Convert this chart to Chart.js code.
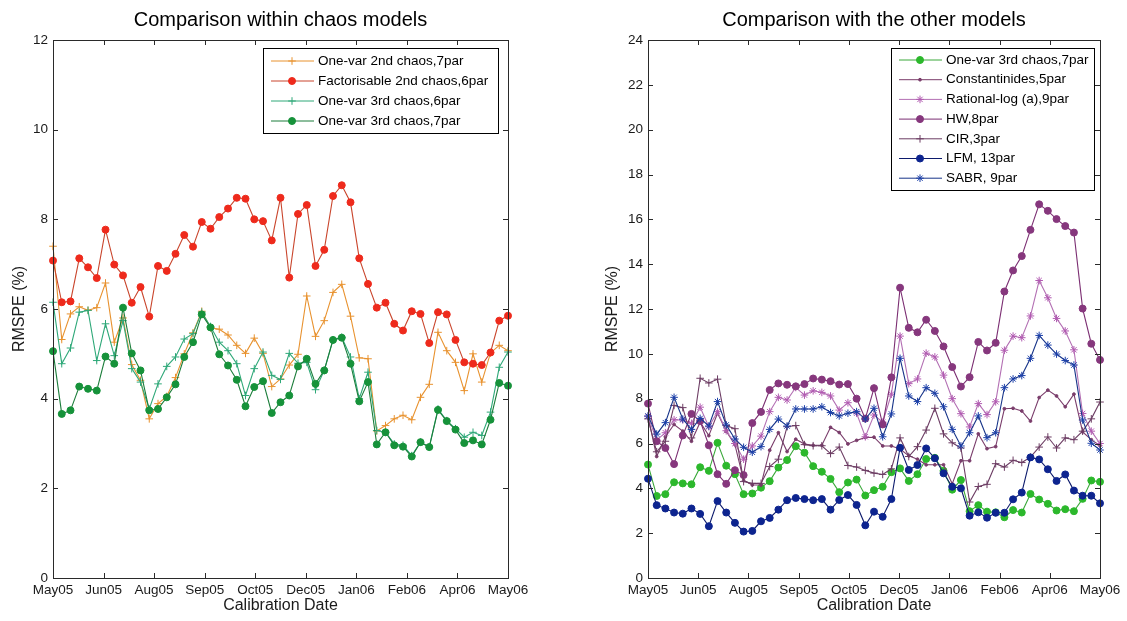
<!DOCTYPE html>
<html lang="en">
<head>
<meta charset="UTF-8" />
<title>RMSPE by calibration date</title>
<script src="https://cdn.jsdelivr.net/npm/chart.js"></script>
<style>
  body { margin: 0; background: #ffffff; overflow: hidden; }
  .panel { position: absolute; top: 0; height: 621px; }
  #leftPanel { left: 0; width: 563px; }
  #rightPanel { left: 595px; width: 532px; }
</style>
</head>
<body>
<div class="panel" id="leftPanel"><canvas id="chaosChart"></canvas></div>
<div class="panel" id="rightPanel"><canvas id="otherChart"></canvas></div>
<script>
// tick labels along the calibration date axis (evenly spaced over the year)
var dateTicks = ["May05", "Jun05", "Aug05", "Sep05", "Oct05", "Dec05", "Jan06", "Feb06", "Apr06", "May06"];

// weekly RMSPE (%) values, May05 .. May06
var oneVar2nd7 = [7.40, 5.32, 5.89, 6.05, 5.97, 6.03, 6.58, 5.26, 5.80, 4.76, 4.41, 3.55, 3.89, 4.05, 4.47, 5.00, 5.47, 5.95, 5.58, 5.55, 5.42, 5.19, 5.01, 5.35, 5.01, 4.27, 4.44, 4.75, 4.99, 6.29, 5.39, 5.74, 6.37, 6.55, 5.84, 4.91, 4.89, 3.28, 3.40, 3.55, 3.63, 3.53, 4.03, 4.32, 5.48, 5.07, 4.81, 4.18, 5.00, 4.37, 5.02, 5.19, 5.07];
var factorisable2nd6 = [7.08, 6.15, 6.17, 7.13, 6.93, 6.69, 7.77, 6.99, 6.75, 6.14, 6.49, 5.83, 6.96, 6.85, 7.23, 7.65, 7.39, 7.94, 7.79, 8.05, 8.24, 8.48, 8.46, 8.00, 7.96, 7.53, 8.48, 6.70, 8.12, 8.32, 6.96, 7.32, 8.52, 8.76, 8.38, 7.13, 6.56, 6.03, 6.14, 5.67, 5.52, 5.95, 5.89, 5.24, 5.93, 5.88, 5.31, 4.81, 4.78, 4.75, 5.03, 5.74, 5.85];
var oneVar3rd6 = [6.15, 4.78, 5.13, 5.93, 5.97, 4.85, 5.67, 4.96, 5.74, 4.67, 4.37, 3.77, 4.33, 4.72, 4.93, 5.33, 5.45, 5.93, 5.61, 5.26, 5.07, 4.78, 4.07, 4.67, 5.04, 4.52, 4.43, 5.01, 4.79, 4.81, 4.20, 4.63, 5.31, 5.37, 4.93, 4.00, 4.59, 3.29, 3.25, 2.99, 2.96, 2.73, 3.03, 2.92, 3.77, 3.51, 3.33, 3.14, 3.25, 3.18, 3.70, 4.70, 5.04];
var oneVar3rd7 = [5.06, 3.66, 3.74, 4.27, 4.22, 4.18, 4.94, 4.78, 6.03, 5.01, 4.63, 3.74, 3.77, 4.03, 4.32, 4.93, 5.26, 5.88, 5.59, 4.99, 4.74, 4.42, 3.83, 4.26, 4.39, 3.68, 3.92, 4.07, 4.72, 4.89, 4.33, 4.63, 5.31, 5.36, 4.78, 3.94, 4.37, 2.98, 3.25, 2.96, 2.93, 2.71, 3.03, 2.92, 3.75, 3.50, 3.31, 3.01, 3.07, 2.98, 3.53, 4.35, 4.29];
var constantinides5 = [7.20, 5.42, 6.30, 6.85, 6.55, 6.10, 6.95, 6.35, 7.35, 6.55, 5.95, 4.35, 4.15, 4.15, 5.70, 6.48, 5.64, 6.19, 5.98, 5.92, 5.92, 6.72, 6.49, 5.98, 6.14, 6.27, 6.28, 5.89, 5.89, 5.75, 5.45, 5.30, 5.05, 5.05, 5.05, 4.20, 5.23, 5.23, 6.43, 5.77, 5.86, 7.55, 7.57, 7.45, 7.00, 8.05, 8.38, 8.12, 7.64, 8.20, 6.52, 6.17, 5.90];
var rationalLog9 = [7.20, 6.15, 6.48, 7.06, 7.05, 6.90, 7.62, 6.75, 7.42, 6.57, 6.00, 5.30, 5.89, 6.33, 7.42, 8.06, 7.94, 8.50, 8.16, 8.35, 8.28, 8.12, 7.49, 7.82, 7.35, 6.30, 7.27, 6.95, 8.20, 10.79, 8.67, 8.88, 10.03, 9.86, 9.05, 8.00, 7.33, 6.74, 7.78, 7.29, 7.86, 10.16, 10.79, 10.72, 11.69, 13.27, 12.50, 11.58, 11.02, 10.18, 7.34, 6.55, 6.00];
var hw8 = [7.78, 6.10, 5.80, 5.08, 6.36, 7.32, 7.00, 5.92, 4.63, 4.20, 4.81, 4.59, 6.91, 7.41, 8.39, 8.68, 8.62, 8.55, 8.65, 8.90, 8.85, 8.78, 8.63, 8.65, 8.00, 7.11, 8.47, 6.85, 8.95, 12.95, 11.16, 10.96, 11.52, 11.02, 10.33, 9.41, 8.54, 8.96, 10.53, 10.15, 10.49, 12.78, 13.72, 14.36, 15.53, 16.67, 16.38, 16.01, 15.70, 15.41, 12.02, 10.45, 9.73];
var cir3 = [7.10, 5.63, 6.10, 7.70, 7.60, 6.25, 8.91, 8.70, 8.87, 6.80, 6.66, 4.30, 4.22, 4.22, 4.97, 5.30, 6.75, 6.80, 5.95, 5.90, 5.90, 5.55, 5.84, 5.02, 4.95, 4.80, 4.68, 4.62, 4.87, 6.25, 5.42, 5.86, 6.60, 7.57, 6.43, 6.03, 5.80, 3.39, 4.08, 4.18, 5.10, 4.95, 5.25, 5.15, 5.39, 5.84, 6.29, 5.80, 6.25, 6.17, 6.55, 7.10, 7.85];
var lfm13 = [4.43, 3.25, 3.10, 2.92, 2.87, 3.10, 2.86, 2.31, 3.43, 2.92, 2.46, 2.07, 2.10, 2.53, 2.68, 3.05, 3.47, 3.57, 3.52, 3.47, 3.52, 3.05, 3.48, 3.70, 3.26, 2.35, 2.96, 2.73, 3.52, 5.81, 4.82, 5.04, 5.78, 5.34, 4.67, 4.07, 4.00, 2.78, 2.93, 2.69, 2.91, 2.91, 3.51, 3.81, 5.38, 5.29, 4.85, 4.33, 4.62, 3.90, 3.67, 3.67, 3.33];
var sabr9 = [7.23, 6.42, 6.93, 8.06, 7.09, 6.63, 7.12, 6.78, 7.87, 6.83, 6.20, 5.83, 5.61, 5.86, 6.63, 7.09, 6.78, 7.54, 7.54, 7.54, 7.64, 7.38, 7.23, 7.35, 7.42, 7.09, 7.57, 6.30, 7.32, 9.80, 8.12, 7.87, 8.49, 8.24, 7.64, 6.63, 5.89, 6.48, 7.23, 6.26, 6.48, 8.49, 8.88, 9.03, 9.80, 10.82, 10.39, 9.99, 9.70, 9.50, 7.05, 6.01, 5.71];

var FONT = "'Liberation Sans', Arial, Helvetica, sans-serif";
var lastWeek = oneVar3rd7.length - 1;

function toPoints(values) {
  return values.map(function (v, i) { return { x: i, y: v }; });
}

// one line series; markers may have their own colour
function series(label, values, lineColor, markerColor, style, radius) {
  return {
    label: label,
    data: toPoints(values),
    borderColor: lineColor,
    backgroundColor: markerColor,
    pointBackgroundColor: markerColor,
    pointBorderColor: markerColor,
    pointStyle: style,
    pointRadius: radius,
    pointHoverRadius: radius,
    pointBorderWidth: 1,
    borderWidth: 1.1,
    tension: 0,
    clip: false
  };
}

// frame with inward ticks, title and the boxed legend
var framePlugin = {
  id: "frame",
  afterDraw: function (chart, args, opts) {
    var ctx = chart.ctx, a = chart.chartArea;
    var xs = chart.scales.x, ys = chart.scales.y;
    ctx.save();
    ctx.strokeStyle = "#2a2a2a";
    ctx.lineWidth = 1;
    ctx.beginPath();
    xs.ticks.forEach(function (t) {
      var px = Math.round(xs.getPixelForValue(t.value)) + 0.5;
      ctx.moveTo(px, a.bottom); ctx.lineTo(px, a.bottom - 5);
      ctx.moveTo(px, a.top); ctx.lineTo(px, a.top + 5);
    });
    ys.ticks.forEach(function (t) {
      var py = Math.round(ys.getPixelForValue(t.value)) + 0.5;
      ctx.moveTo(a.left, py); ctx.lineTo(a.left + 5, py);
      ctx.moveTo(a.right, py); ctx.lineTo(a.right - 5, py);
    });
    ctx.stroke();
    ctx.strokeRect(a.left + 0.5, a.top + 0.5, a.right - a.left, a.bottom - a.top);

    ctx.fillStyle = "#000";
    ctx.font = "20px " + FONT;
    ctx.textAlign = "center";
    ctx.textBaseline = "alphabetic";
    ctx.fillText(opts.title, (a.left + a.right) / 2, 26);

    var lg = opts.legend;
    ctx.fillStyle = "#fff";
    ctx.fillRect(lg.left, lg.top, lg.right - lg.left, lg.bottom - lg.top);
    ctx.strokeStyle = "#000";
    ctx.strokeRect(lg.left + 0.5, lg.top + 0.5, lg.right - lg.left, lg.bottom - lg.top);
    ctx.font = "13.5px " + FONT;
    ctx.textAlign = "left";
    ctx.textBaseline = "middle";
    chart.data.datasets.forEach(function (ds, i) {
      var y = lg.firstRow + i * lg.rowStep;
      ctx.strokeStyle = ds.borderColor;
      ctx.lineWidth = 1;
      ctx.beginPath();
      ctx.moveTo(lg.left + 8, y);
      ctx.lineTo(lg.left + 51, y);
      ctx.stroke();
      ctx.fillStyle = ds.pointBackgroundColor;
      ctx.strokeStyle = ds.pointBorderColor;
      Chart.helpers.drawPoint(ctx, { pointStyle: ds.pointStyle, radius: ds.pointRadius, borderWidth: 1, rotation: 0 }, lg.left + 29, y);
      ctx.fillStyle = "#000";
      ctx.fillText(ds.label, lg.left + 55, y);
    });
    ctx.restore();
  }
};

function makeChart(canvasId, datasets, yMax, rightPad, yTitlePad, title, legend) {
  // later series are painted over earlier ones
  datasets.forEach(function (ds, i) { ds.order = datasets.length - i; });
  return new Chart(document.getElementById(canvasId), {
    type: "line",
    data: { datasets: datasets },
    plugins: [framePlugin],
    options: {
      responsive: true,
      maintainAspectRatio: false,
      animation: false,
      events: [],
      layout: { padding: { left: 0, right: rightPad, top: 40, bottom: 0 } },
      scales: {
        x: {
          type: "linear",
          min: 0,
          max: lastWeek,
          afterBuildTicks: function (scale) {
            scale.ticks = dateTicks.map(function (d, k) {
              return { value: k * lastWeek / (dateTicks.length - 1) };
            });
          },
          afterFit: function (scale) { scale.height = 43; },
          grid: { display: false, drawTicks: false },
          border: { display: false },
          ticks: {
            autoSkip: false,
            maxRotation: 0,
            padding: 4,
            color: "#1a1a1a",
            font: { family: FONT, size: 13.5 },
            callback: function (value, index) { return dateTicks[index]; }
          },
          title: {
            display: true,
            text: "Calibration Date",
            color: "#1a1a1a",
            font: { family: FONT, size: 16 },
            padding: { top: 0, bottom: 6 }
          }
        },
        y: {
          min: 0,
          max: yMax,
          afterFit: function (scale) { scale.width = 53; },
          grid: { display: false, drawTicks: false },
          border: { display: false },
          ticks: {
            stepSize: 2,
            padding: 5,
            color: "#1a1a1a",
            font: { family: FONT, size: 13.5 }
          },
          title: {
            display: true,
            text: "RMSPE (%)",
            color: "#1a1a1a",
            font: { family: FONT, size: 16 },
            padding: { top: yTitlePad, bottom: 0 }
          }
        }
      },
      plugins: {
        legend: { display: false },
        tooltip: { enabled: false },
        frame: { title: title, legend: legend }
      }
    }
  });
}

makeChart("chaosChart", [
  series("One-var 2nd chaos,7par", oneVar2nd7, "#e8922f", "#e8922f", "cross", 3.8),
  series("Factorisable 2nd chaos,6par", factorisable2nd6, "#c9452c", "#ee2a1c", "circle", 3.5),
  series("One-var 3rd chaos,6par", oneVar3rd6, "#2ea878", "#2ea878", "cross", 3.8),
  series("One-var 3rd chaos,7par", oneVar3rd7, "#1b7d3a", "#16923a", "circle", 3.5)
], 12, 55, 10.4, "Comparison within chaos models",
  { left: 263, top: 48, right: 498, bottom: 133, firstRow: 61, rowStep: 20 });

makeChart("otherChart", [
  series("One-var 3rd chaos,7par", oneVar3rd7, "#3aa83a", "#2cb82c", "circle", 3.5),
  series("Constantinides,5par", constantinides5, "#7a3d6b", "#7a3d6b", "circle", 1.4),
  series("Rational-log (a),9par", rationalLog9, "#b36fb3", "#b15ab1", "star", 3.8),
  series("HW,8par", hw8, "#7b2e72", "#86377d", "circle", 3.5),
  series("CIR,3par", cir3, "#6c3c63", "#6c3c63", "cross", 3.8),
  series("LFM, 13par", lfm13, "#0c1a6c", "#0d248f", "circle", 3.5),
  series("SABR, 9par", sabr9, "#173489", "#1b3fa8", "star", 3.8)
], 24, 27, 8.4, "Comparison with the other models",
  { left: 296, top: 48, right: 499, bottom: 190, firstRow: 60, rowStep: 19.7 });
</script>
</body>
</html>
